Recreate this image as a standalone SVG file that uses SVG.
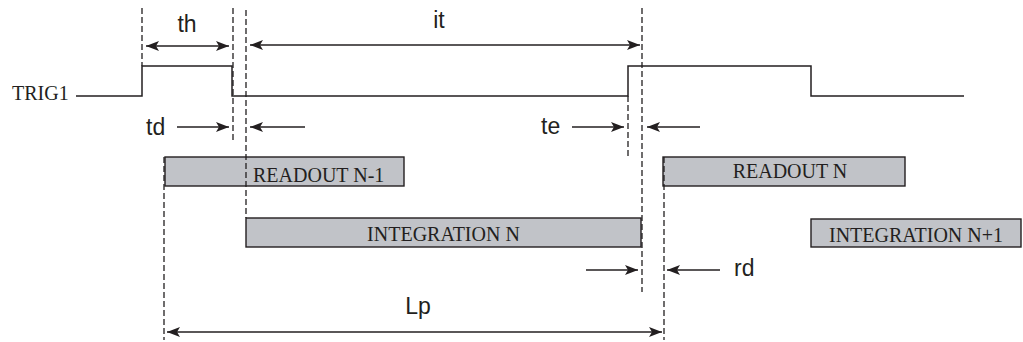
<svg xmlns="http://www.w3.org/2000/svg" width="1023" height="342" viewBox="0 0 1023 342">
<style>
.ln{stroke:#231f20;stroke-width:1.5;fill:none}
.dash{stroke:#231f20;stroke-width:1.3;fill:none;stroke-dasharray:6 3}
.box{fill:#c1c3c8;stroke:#231f20;stroke-width:1.4}
.tm{font-family:"Liberation Serif","Times New Roman",serif;font-size:20px;fill:#231f20}
.sf{font-family:"Liberation Sans",Arial,sans-serif;font-size:23px;fill:#231f20}
</style>
<defs>
<marker id="ah" viewBox="0 0 13 10" refX="13" refY="5" markerWidth="13" markerHeight="10" markerUnits="userSpaceOnUse" orient="auto-start-reverse">
<path d="M0,0 L13,5 L0,10 L3,5 z" fill="#231f20"/>
</marker>
</defs>
<rect width="1023" height="342" fill="#ffffff"/>
<g id="signal">
<text class="tm" x="12" y="100">TRIG1</text>
<polyline class="ln" points="76,96 142,96 142,66 232,66 232,96 628,96 628,66 811,66 811,96 964,96"/>
</g>
<g id="readout-n-1">
<rect class="box" x="165" y="157" width="239" height="29"/>
<text class="tm" x="253" y="182">READOUT N-1</text>
</g>
<g id="integration-n">
<rect class="box" x="246" y="218" width="395" height="29"/>
<text class="tm" x="443.5" y="241" text-anchor="middle">INTEGRATION N</text>
</g>
<g id="readout-n">
<rect class="box" x="663" y="157" width="242" height="29"/>
<text class="tm" x="790" y="178" text-anchor="middle">READOUT N</text>
</g>
<g id="integration-n1">
<rect class="box" x="811" y="219" width="210" height="28"/>
<text class="tm" x="916" y="242" text-anchor="middle">INTEGRATION N+1</text>
</g>
<g id="connectors">
<line class="dash" x1="142" y1="8" x2="142" y2="66"/>
<line class="dash" x1="233" y1="8" x2="233" y2="142"/>
<line class="dash" x1="246" y1="10" x2="246" y2="218"/>
<line class="dash" x1="628" y1="96" x2="628" y2="157"/>
<line class="dash" x1="642" y1="8" x2="642" y2="292"/>
<line class="dash" x1="664" y1="157" x2="664" y2="340"/>
<line class="dash" x1="164" y1="157" x2="164" y2="340"/>
<line class="ln" x1="146" y1="46" x2="229" y2="46" marker-start="url(#ah)" marker-end="url(#ah)"/>
<line class="ln" x1="250" y1="45" x2="640" y2="45" marker-start="url(#ah)" marker-end="url(#ah)"/>
<line class="ln" x1="177" y1="127" x2="229" y2="127" marker-end="url(#ah)"/>
<line class="ln" x1="305" y1="127" x2="250" y2="127" marker-end="url(#ah)"/>
<line class="ln" x1="572" y1="127" x2="624" y2="127" marker-end="url(#ah)"/>
<line class="ln" x1="700" y1="127" x2="647" y2="127" marker-end="url(#ah)"/>
<line class="ln" x1="586" y1="270" x2="638" y2="270" marker-end="url(#ah)"/>
<line class="ln" x1="720" y1="270" x2="667" y2="270" marker-end="url(#ah)"/>
<line class="ln" x1="167" y1="332" x2="662" y2="332" marker-start="url(#ah)" marker-end="url(#ah)"/>
</g>
<g id="labels">
<text class="sf" x="187" y="32" text-anchor="middle">th</text>
<text class="sf" x="439" y="28" text-anchor="middle">it</text>
<text class="sf" x="146" y="135">td</text>
<text class="sf" x="541" y="134">te</text>
<text class="sf" x="734" y="276">rd</text>
<text class="sf" x="418" y="314" text-anchor="middle">Lp</text>
</g>
</svg>
